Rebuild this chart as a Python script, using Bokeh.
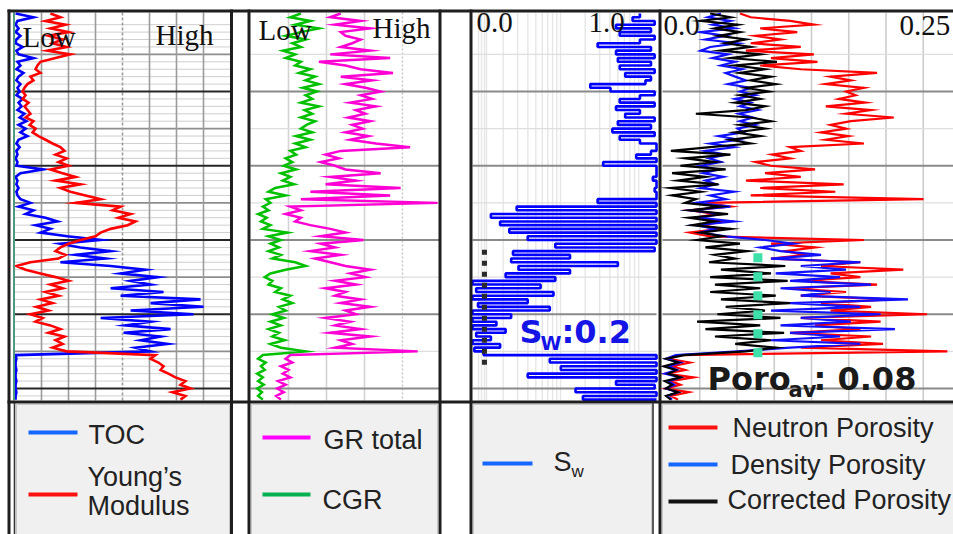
import numpy as np
from bokeh.plotting import figure
from bokeh.models import Range1d
from bokeh.core.properties import value
from bokeh.embed import file_html
from bokeh.resources import INLINE

# ---------------------------------------------------------------------------
# Well-log curves, one value per depth sample (2.5 ft sampling)
# ---------------------------------------------------------------------------
DEPTH_START_FT = 4997.5
DEPTH_STEP_FT = 2.5

# Track 1: relative scale 0 (Low) .. 8 (High)
toc = [0.04, 0.70, 0.11, 0.04, 0.15, 0.04, 0.22, 0.07, 0.04, 0.30,
       0.07, 0.15, 0.70, 0.11, 0.22, 0.07, 0.33, 0.15, 0.07, 0.22,
       0.11, 0.19, 0.07, 0.30, 0.15, 0.26, 0.11, 0.37, 0.19, 0.44,
       0.15, 0.41, 0.22, 0.48, 0.15, 0.07, 0.19, 0.07, 0.11, 0.04,
       0.11, 0.07, 1.07, 0.22, 0.04, 0.11, 0.07, 0.15, 0.07, 0.11,
       0.22, 0.59, 0.15, 0.70, 0.41, 1.15, 1.59, 0.78, 1.33, 0.96,
       1.96, 3.19, 1.70, 2.44, 3.56, 2.26, 3.37, 1.70, 3.56, 4.85,
       3.93, 5.30, 4.30, 5.04, 3.56, 5.52, 3.93, 6.89, 5.04, 7.00,
       4.30, 6.63, 3.19, 5.04, 4.11, 5.78, 4.04, 5.41, 4.67, 5.67,
       4.48, 5.04, 0.04, 0.07, 0.04, 0.04, 0.07, 0.04, 0.04, 0.07,
       0.04, 0.04, 0.07, 0.04, 0.04]
youngs_modulus = [1.33, 1.70, 1.15, 1.89, 1.33, 2.00, 1.26, 1.78, 1.41, 1.93,
                  1.22, 2.07, 1.52, 0.96, 0.85, 0.78, 0.96, 0.59, 0.70, 0.48,
                  0.37, 0.30, 0.41, 0.30, 0.52, 0.37, 0.48, 0.59, 0.41, 0.70,
                  0.56, 0.78, 0.67, 0.89, 1.15, 1.41, 1.70, 1.85, 1.52, 1.93,
                  1.63, 2.00, 1.33, 1.78, 2.26, 1.52, 2.44, 1.70, 2.07, 2.63,
                  3.19, 2.26, 3.93, 3.63, 4.30, 3.85, 4.48, 4.19, 3.56, 3.19,
                  3.00, 2.44, 2.00, 1.70, 1.52, 1.89, 1.63, 0.59, 0.07, 0.41,
                  0.96, 1.52, 2.00, 1.33, 1.78, 1.15, 1.63, 0.96, 1.41, 0.81,
                  1.26, 0.59, 1.04, 0.78, 1.33, 1.70, 1.26, 1.85, 1.52, 1.78,
                  1.41, 1.93, 5.22, 5.04, 5.33, 5.52, 5.41, 5.70, 5.96, 6.33,
                  6.15, 6.52, 5.85, 6.33, 6.15]

# Track 2: gamma ray, API (0 .. 200)
gr_total = [95, 84, 116, 89, 126, 95, 100, 116, 107, 95,
            126, 84, 147, 72, 100, 116, 150, 95, 128, 100,
            121, 137, 116, 128, 105, 132, 111, 121, 103, 126,
            107, 118, 100, 124, 105, 132, 168, 95, 79, 93,
            74, 89, 100, 137, 84, 111, 79, 158, 63, 147,
            53, 197, 42, 53, 37, 53, 47, 63, 84, 100,
            74, 119, 74, 89, 63, 95, 68, 84, 100, 126,
            105, 121, 89, 111, 79, 100, 89, 116, 95, 126,
            100, 111, 79, 105, 89, 116, 84, 126, 95, 107,
            89, 176, 42, 37, 44, 32, 40, 34, 42, 29,
            37, 28, 35, 27, 32]
cgr = [53, 42, 63, 47, 72, 53, 37, 58, 44, 53,
       34, 47, 37, 53, 47, 63, 51, 68, 58, 72,
       55, 70, 58, 65, 53, 72, 57, 65, 53, 68,
       59, 53, 65, 48, 63, 47, 58, 42, 48, 37,
       44, 35, 48, 32, 42, 34, 46, 26, 19, 37,
       16, 21, 13, 19, 8, 17, 11, 21, 13, 39,
       19, 32, 21, 30, 19, 32, 23, 47, 58, 37,
       21, 15, 23, 19, 32, 26, 42, 34, 44, 30,
       37, 23, 35, 21, 32, 19, 30, 23, 36, 21,
       32, 58, 13, 8, 16, 11, 15, 7, 13, 8,
       14, 7, 12, 8, 13]

# Track 3: water saturation (fraction)
sw = [0.91, 0.87, 0.99, 0.78, 0.97, 0.80, 0.99, 0.91, 0.68, 0.97,
      0.78, 0.99, 0.79, 0.97, 0.80, 0.99, 0.83, 0.97, 0.94, 0.64,
      0.75, 0.99, 0.91, 0.80, 0.99, 0.78, 0.91, 0.83, 0.99, 0.79,
      0.97, 0.76, 0.99, 0.80, 0.91, 1.00, 1.00, 0.97, 0.89, 1.00,
      0.71, 1.00, 1.00, 1.00, 0.98, 1.00, 1.00, 0.99, 1.00, 1.00,
      0.68, 1.00, 0.24, 1.00, 0.10, 1.00, 0.15, 1.00, 0.20, 1.00,
      0.30, 1.00, 0.45, 0.99, 0.22, 0.53, 0.21, 0.79, 0.25, 0.53,
      0.18, 0.45, 0.00, 0.37, 0.02, 0.44, 0.00, 0.30, 0.03, 0.42,
      0.00, 0.21, 0.00, 0.13, 0.00, 0.18, 0.02, 0.10, 0.00, 0.15,
      0.01, 0.06, 1.00, 0.42, 1.00, 0.48, 1.00, 0.30, 1.00, 0.78,
      0.99, 0.56, 1.00, 0.60, 1.00]

# Track 4: porosity (fraction, 0 .. 0.25)
neutron_por = [0.065, 0.074, 0.107, 0.127, 0.082, 0.113, 0.078, 0.099, 0.074, 0.116,
               0.070, 0.127, 0.091, 0.130, 0.082, 0.116, 0.180, 0.141, 0.158, 0.137,
               0.169, 0.154, 0.162, 0.148, 0.170, 0.137, 0.175, 0.154, 0.194, 0.158,
               0.141, 0.154, 0.133, 0.156, 0.137, 0.169, 0.107, 0.116, 0.092, 0.107,
               0.078, 0.091, 0.128, 0.086, 0.116, 0.070, 0.152, 0.082, 0.145, 0.074,
               0.219, 0.036, 0.057, 0.023, 0.044, 0.028, 0.053, 0.032, 0.049, 0.023,
               0.040, 0.169, 0.091, 0.128, 0.103, 0.120, 0.091, 0.166, 0.133, 0.202,
               0.141, 0.166, 0.116, 0.180, 0.107, 0.154, 0.116, 0.191, 0.133, 0.175,
               0.141, 0.222, 0.116, 0.183, 0.128, 0.166, 0.107, 0.175, 0.133, 0.185,
               0.116, 0.239, 0.015, 0.005, 0.023, 0.008, 0.019, 0.003, 0.026, 0.007,
               0.015, 0.003, 0.022, 0.007, 0.013]
density_por = [0.049, 0.038, 0.057, 0.042, 0.060, 0.032, 0.053, 0.036, 0.063, 0.040,
               0.032, 0.055, 0.042, 0.061, 0.049, 0.067, 0.053, 0.061, 0.070, 0.055,
               0.074, 0.065, 0.078, 0.061, 0.074, 0.065, 0.080, 0.064, 0.076, 0.065,
               0.078, 0.063, 0.068, 0.047, 0.064, 0.040, 0.060, 0.036, 0.053, 0.039,
               0.049, 0.032, 0.047, 0.034, 0.051, 0.036, 0.045, 0.032, 0.060, 0.040,
               0.053, 0.028, 0.057, 0.023, 0.049, 0.032, 0.060, 0.028, 0.044, 0.032,
               0.053, 0.086, 0.110, 0.082, 0.099, 0.133, 0.091, 0.166, 0.116, 0.154,
               0.095, 0.149, 0.107, 0.175, 0.099, 0.141, 0.116, 0.206, 0.107, 0.166,
               0.091, 0.183, 0.116, 0.158, 0.099, 0.195, 0.107, 0.149, 0.091, 0.166,
               0.107, 0.063, 0.011, 0.003, 0.015, 0.005, 0.012, 0.002, 0.015, 0.005,
               0.010, 0.003, 0.013, 0.004, 0.008]
corrected_por = [0.040, 0.057, 0.032, 0.063, 0.044, 0.065, 0.047, 0.070, 0.053, 0.074,
                 0.049, 0.082, 0.057, 0.096, 0.061, 0.086, 0.065, 0.091, 0.074, 0.095,
                 0.070, 0.089, 0.065, 0.082, 0.061, 0.086, 0.070, 0.028, 0.074, 0.091,
                 0.065, 0.086, 0.061, 0.082, 0.057, 0.074, 0.040, 0.007, 0.057, 0.019,
                 0.044, 0.015, 0.053, 0.008, 0.036, 0.013, 0.047, 0.007, 0.032, 0.008,
                 0.028, 0.019, 0.049, 0.023, 0.055, 0.022, 0.044, 0.025, 0.057, 0.032,
                 0.050, 0.029, 0.065, 0.036, 0.071, 0.044, 0.061, 0.039, 0.103, 0.049,
                 0.091, 0.040, 0.105, 0.044, 0.082, 0.040, 0.095, 0.049, 0.107, 0.053,
                 0.086, 0.046, 0.099, 0.029, 0.082, 0.036, 0.102, 0.044, 0.091, 0.061,
                 0.095, 0.070, 0.018, 0.003, 0.013, 0.001, 0.011, 0.005, 0.015, 0.002,
                 0.008, 0.003, 0.013, 0.003, 0.007]

# Zone summary values
SW_AVG = 0.2
PORO_AVG = 0.08
PAY_TOP_FT, PAY_BASE_FT = 5159.0, 5229.0          # averaging interval
SW_FLAG_X = 0.065                                 # flag line in the Sw track
SW_FLAG_TOP_FT, SW_FLAG_BASE_FT = 5156.5, 5236.0

depth = DEPTH_START_FT + DEPTH_STEP_FT * np.arange(len(toc))

# ---------------------------------------------------------------------------
# Page geometry (pixels) and depth scale
# ---------------------------------------------------------------------------
W, H = 953, 534
FT_REF, PX_REF, PX_PER_FT = 5000.0, 16.75, 1.485
TRACK_TOP_PX, TRACK_BASE_PX = 12, 400


def px_to_ft(py):
    return FT_REF + (py - PX_REF) / PX_PER_FT


TRACK_TOP_FT, TRACK_BASE_FT = px_to_ft(TRACK_TOP_PX), px_to_ft(TRACK_BASE_PX)

# name: (value at left edge, value at right edge, left px, right px)
TRACKS = {
    "t1": (0.0, 8.0, 14, 230),
    "t2": (0.0, 200.0, 250, 440),
    "t3": (0.0, 1.0, 472, 656),
    "t4": (0.0, 0.25, 662, 960),
}


def track_range(lo, hi, p0, p1):
    s = (hi - lo) / (p1 - p0)
    return Range1d(start=lo - p0 * s, end=lo + (W - p0) * s)


p = figure(width=W, height=H, x_range=Range1d(0, W), y_range=Range1d(H, 0),
           output_backend="svg", toolbar_location=None, min_border=0,
           x_axis_type=None, y_axis_type=None, outline_line_color=None,
           background_fill_color="white", border_fill_color="white")
p.extra_y_ranges = {"depth": Range1d(start=px_to_ft(H), end=px_to_ft(0))}
p.extra_x_ranges = {k: track_range(*v) for k, v in TRACKS.items()}

# ---------------------------------------------------------------------------
# Track grids
# ---------------------------------------------------------------------------
minor_ft = np.arange(5005.0, 5258.0, 5.0)
minor_ft = minor_ft[(minor_ft % 25) != 0]
medium_ft = np.arange(5025.0, 5258.0, 50.0)
major_ft = np.arange(5000.0, 5258.0, 50.0)


def hlines(track, depths, color, width, dash="solid"):
    lo, hi = TRACKS[track][0], TRACKS[track][1]
    right = min(hi, track_range(*TRACKS[track]).end)
    p.segment(x0=[lo] * len(depths), x1=[right] * len(depths), y0=depths, y1=depths,
              x_range_name=track, y_range_name="depth",
              line_color=color, line_width=width, line_dash=dash)


def vlines(track, xs, color, width, dash="solid"):
    p.segment(x0=xs, x1=xs, y0=[TRACK_TOP_FT] * len(xs), y1=[TRACK_BASE_FT] * len(xs),
              x_range_name=track, y_range_name="depth",
              line_color=color, line_width=width, line_dash=dash)


# track 1: dense depth grid
hlines("t1", minor_ft, "#cfcfcf", 1)
hlines("t1", medium_ft, "#8e8e8e", 1.6)
vlines("t1", [1, 2, 3, 5, 6, 7], "#9c9c9c", 1.6)
vlines("t1", [4], "#9c9c9c", 1.6, "3 2")
hlines("t1", major_ft[1:], "#262626", 2)

# track 2
vlines("t2", [40, 80, 120], "#d4d4d4", 1.6)
vlines("t2", [160], "#c4c4c4", 1.4, "2 2")
hlines("t2", medium_ft, "#dedede", 1.4)
hlines("t2", major_ft[1:], "#8a8a8a", 2)

# track 3: two-cycle logarithmic grid
log_px = [478 + 82 * np.log10(k) for k in range(1, 11)] + \
         [560 + 82 * np.log10(k) for k in range(2, 10)] + [481, 484, 486]
vlines("t3", [(x - 472) / 184 for x in log_px], "#e6e6e6", 1.4)
hlines("t3", medium_ft, "#dedede", 1.4)
hlines("t3", major_ft[1:], "#8a8a8a", 2)

# track 4
vlines("t4", [0.03125 * k for k in range(1, 8)], "#cccccc", 1.6)
hlines("t4", medium_ft, "#dedede", 1.4)
hlines("t4", major_ft[1:], "#8a8a8a", 2)

# ---------------------------------------------------------------------------
# Curves
# ---------------------------------------------------------------------------
C_BLUE, C_RED, C_MAG, C_GREEN, C_BLACK = "#0000ff", "#ff0000", "#ff00d4", "#00c000", "#000000"


def log_curve(vals, track, color, width=2.5):
    p.line(vals, depth, x_range_name=track, y_range_name="depth",
           line_color=color, line_width=width, line_join="miter")


log_curve(toc, "t1", C_BLUE, 2.6)
log_curve(youngs_modulus, "t1", C_RED, 2.6)

log_curve(cgr, "t2", C_GREEN)
log_curve(gr_total, "t2", C_MAG)

# saturation is printed as held sample values
p.step(sw, depth, mode="before", x_range_name="t3", y_range_name="depth",
       line_color=C_BLUE, line_width=2.6)

log_curve(neutron_por, "t4", C_RED, 2.2)
log_curve(density_por, "t4", "#1010ff", 2.2)
log_curve(corrected_por, "t4", C_BLACK, 2.2)

# zone markers
p.segment(x0=[SW_FLAG_X], x1=[SW_FLAG_X], y0=[SW_FLAG_TOP_FT], y1=[SW_FLAG_BASE_FT],
          x_range_name="t3", y_range_name="depth",
          line_color="#2a2a2a", line_width=5, line_dash="5 6")
p.segment(x0=[PORO_AVG], x1=[PORO_AVG], y0=[PAY_TOP_FT], y1=[PAY_BASE_FT],
          x_range_name="t4", y_range_name="depth",
          line_color="#3ee0aa", line_width=9, line_dash="9 10")

# ---------------------------------------------------------------------------
# Frame, legend panels
# ---------------------------------------------------------------------------
p.quad(left=[16, 251, 473, 662], right=[229, 437, 651, 953],
       top=[404] * 4, bottom=[H] * 4,
       fill_color="#f0f0f0", line_color="#c8c8c8", line_width=1)

FRAME = "#1e1e1e"
p.segment(x0=[13.5], x1=[13.5], y0=[TRACK_TOP_PX], y1=[TRACK_BASE_PX],
          line_color="#4f9a7f", line_width=2)
p.segment(x0=[7, 7], x1=[W, W], y0=[10.5, 401.5], y1=[10.5, 401.5],
          line_color=FRAME, line_width=3)
p.segment(x0=[8.5, 231, 248.5, 439.5, 470.5, 659.5],
          x1=[8.5, 231, 248.5, 439.5, 470.5, 659.5],
          y0=[9] * 6, y1=[H] * 6, line_color=FRAME, line_width=3)
p.segment(x0=[14, 652.5], x1=[14, 652.5], y0=[402, 402], y1=[H, H],
          line_color="#333333", line_width=1.6)

# scale labels
SERIF = value("Liberation Serif")
p.text(x=[22, 155, 258, 372, 476, 588, 663, 899],
       y=[36, 34, 29, 27, 22, 22, 25, 25],
       text=["Low", "High", "Low", "High", "0.0", "1.0", "0.0", "0.25"],
       text_font=SERIF, text_font_size="29px", text_color="#111111",
       text_baseline="alphabetic")

# legend swatches and labels
L_BLUE = "#1466ff"
p.segment(x0=[28, 28, 262, 262, 482, 668, 668, 668],
          x1=[77, 77, 310, 310, 532, 717, 717, 717],
          y0=[432, 494, 437, 494, 463, 427, 464, 501],
          y1=[432, 494, 437, 494, 463, 427, 464, 501],
          line_color=[L_BLUE, "#ff1010", "#ff00ff", "#00b050", L_BLUE, "#ff1010", L_BLUE, "#111111"],
          line_width=4)

SANS = value("Liberation Sans")
p.text(x=[88, 87, 87, 323, 322, 553, 732, 730, 727],
       y=[434, 476, 505, 439, 499, 461, 427, 464, 499],
       text=["TOC", "Young\u2019s", "Modulus", "GR total", "CGR", "S",
             "Neutron Porosity", "Density Porosity", "Corrected Porosity"],
       text_font=SANS, text_font_size="27px", text_color="#222222",
       text_baseline="alphabetic")
p.text(x=[571], y=[471], text=["w"], text_font=SANS, text_font_size="17px",
       text_color="#222222", text_baseline="alphabetic")

# zone annotations
BOLD = value("DejaVu Sans")
p.text(x=[519, 561], y=[331, 331], text=["S", f":{SW_AVG:.1f}"],
       text_font=BOLD, text_font_style="bold", text_font_size="32px",
       text_color="#1414e6", text_baseline="alphabetic")
p.text(x=[540], y=[342], text=["W"], text_font=BOLD, text_font_style="bold",
       text_font_size="19px", text_color="#1414e6", text_baseline="alphabetic")
p.text(x=[707, 813], y=[378, 378], text=["Poro", f": {PORO_AVG:.2f}"],
       text_font=BOLD, text_font_style="bold", text_font_size="32px",
       text_color="#1a1a1a", text_baseline="alphabetic")
p.text(x=[788], y=[389], text=["av"], text_font=BOLD, text_font_style="bold",
       text_font_size="21px", text_color="#1a1a1a", text_baseline="alphabetic")

open("out.html", "w").write(file_html(p, INLINE))
